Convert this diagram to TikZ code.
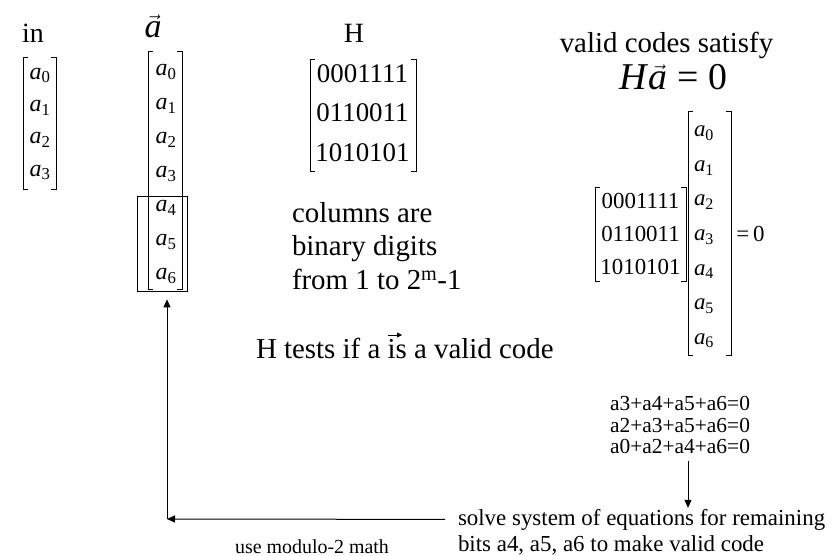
\documentclass[tikz,border=0pt]{standalone}
\usepackage{amsmath}
\usepackage{fontspec}
\setmainfont{Liberation Serif}
\usetikzlibrary{arrows.meta,calc}

% italic a with an upright subscript digit
\newcommand{\ai}[1]{$\textit{a}_{\text{#1}}$}
% square brackets around the box x1,y1 -- x2,y2
\newcommand{\sqbrackets}[4]{%
  \draw[brk] (#1+5,#2) -- (#1,#2) -- (#1,#4) -- (#1+5,#4);
  \draw[brk] (#3-5,#2) -- (#3,#2) -- (#3,#4) -- (#3-5,#4);}
\newcommand{\fs}[2]{\fontsize{#1}{#2}\selectfont}

\begin{document}
\begin{tikzpicture}[x=1bp,y=-1bp,
  txt/.style={inner sep=0pt, outer sep=0pt},
  brk/.style={line width=1bp, line join=miter},
  arr/.style={line width=1bp, -{Triangle[length=8bp,width=7bp]}},
  tinyarr/.style={line width=0.9bp, -{Triangle[length=5bp,width=5bp]}}]
\useasboundingbox (0,0) rectangle (832,556);

% ---- input vector ----
\node[txt, anchor=base west, font=\fs{28}{34}] (inlbl) at (22,43) {in};
\sqbrackets{23}{58}{56}{190}
\node[txt, align=center, font=\fs{24}{32.5}] (invec) at (40,124)
  {\ai0\\ \ai1\\ \ai2\\ \ai3};

% ---- code vector ----
\node[txt, anchor=base, font=\fs{34}{40}] (alabel) at (153,38) {$\vec{\textit{a}}$};
\sqbrackets{148}{52}{182}{290}
\node[txt, align=center, font=\fs{24}{34.2}] (avec) at (166,174)
  {\ai0\\ \ai1\\ \ai2\\ \ai3\\ \ai4\\ \ai5\\ \ai6};
\node[draw, brk, inner sep=0pt, minimum width=51, minimum height=96] (sel) at (162.5,244) {};

% ---- parity check matrix ----
\node[txt, anchor=base, font=\fs{28}{34}] (hlbl) at (354,43) {H};
\sqbrackets{310}{60}{416}{172}
\node[txt, align=center, font=\fs{27}{39.5}] (hmat) at (362.5,113)
  {0001111\\ 0110011\\ 1010101};

\node[txt, anchor=west, align=left, font=\fs{29}{34}] (cols) at (292,246)
  {columns are\\ binary digits\\ from 1 to 2\textsuperscript{m}-1};

\node[txt, anchor=base west, font=\fs{29}{34}] (htest) at (256,358)
  {H tests if a is a valid code};
\coordinate (vs) at ($(htest.base west)+(132,-23)$);
\coordinate (ve) at ($(htest.base west)+(146,-23)$);
\draw[tinyarr] (vs) -- (ve);

% ---- validity condition ----
\node[txt, anchor=base, font=\fs{29}{34}] (valid) at (666.5,53) {valid codes satisfy};
\node[txt, anchor=base, font=\fs{38}{44}] (cond) at (673.5,90)
  {\textit{H}$\vec{\textit{a}}$ = 0};

\sqbrackets{595}{188}{686}{282}
\node[txt, align=center, font=\fs{23}{33.5}] (hmat2) at (640.5,234)
  {0001111\\ 0110011\\ 1010101};
\sqbrackets{688}{112}{731}{355}
\node[txt, anchor=west, align=left, font=\fs{23}{34.7}] (avec2) at (694,237)
  {\ai0\\ \ai1\\ \ai2\\ \ai3\\ \ai4\\ \ai5\\ \ai6};
\node[txt, font=\fs{23}{28}] (zero) at (750.5,234) {=\,0};

% ---- equations and solving step ----
\node[txt, align=center, font=\fs{21.5}{22}] (eqs) at (680,425)
  {a3+a4+a5+a6=0\\ a2+a3+a5+a6=0\\ a0+a2+a4+a6=0};
\node[txt, anchor=base west, font=\fs{23}{26}] (solveA) at (458,525)
  {solve system of equations for remaining};
\node[txt, anchor=base west, font=\fs{23}{26}] (solveB) at (458,551)
  {bits a4, a5, a6 to make valid code};
\node[txt, anchor=base, font=\fs{20}{24}] (mod) at (312,553) {use modulo-2 math};

\draw[arr] ([xshift=8bp,yshift=-7bp]eqs.south) -- ([xshift=8bp,yshift=1bp]eqs.south |- solveA.north);
\coordinate (corner) at (167,519);
\draw[arr] ([xshift=-13bp]solveA.west) -- (corner);
\draw[arr] (corner) -- ([yshift=-7bp]corner |- sel.south);
\end{tikzpicture}
\end{document}
